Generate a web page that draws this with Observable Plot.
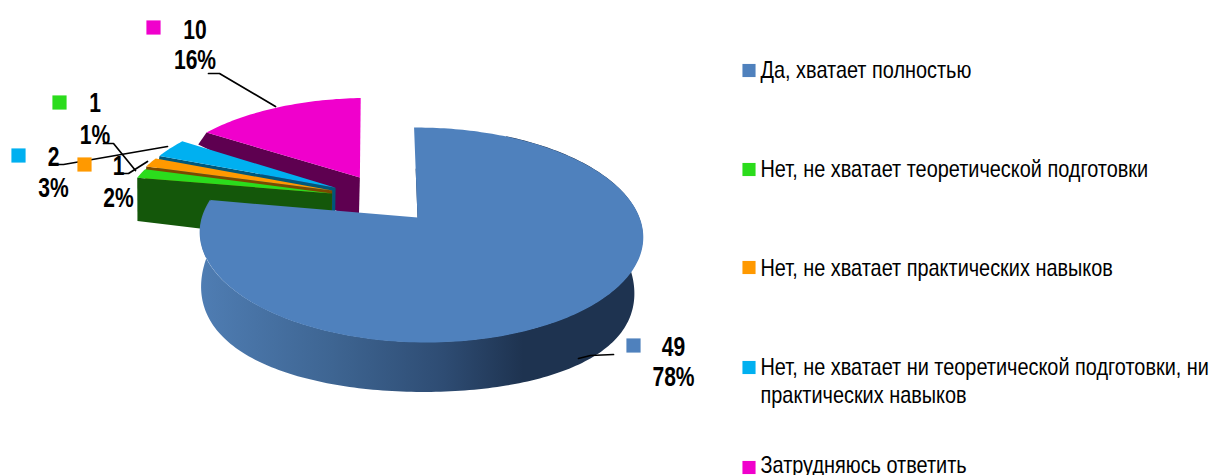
<!DOCTYPE html>
<html><head><meta charset="utf-8">
<script src="https://cdn.jsdelivr.net/npm/d3@7"></script>
<script src="https://cdn.jsdelivr.net/npm/@observablehq/plot@0.6"></script>
<style>html,body{margin:0;padding:0;background:#fff}svg{display:block}</style>
</head><body><div id="c"></div>
<script>
const categories = ["Да, хватает полностью","Нет, не хватает теоретической подготовки","Нет, не хватает практических навыков","Нет, не хватает ни теоретической подготовки, ни практических навыков","Затрудняюсь ответить"];
const values = [49,1,1,2,10];
const percents = ["78%","1%","2%","3%","16%"];
const colors = ["#4F81BD","#2BDC1C","#FF9900","#00B0F0","#F000CC"];
const wallColors = ["#1E3350","#14570A","#7A4A00","#00587A","#5E0050"];
// slice explosion in the pie plane
const explodeU = [0,-0.405,-0.405,-0.39,-0.275];
const explodeV = [0,-0.24,-0.27,-0.30,-0.41];
const wallInset = [0,7,5,3,1];
const endTrim = [0,0,0,0,0.02];
// layout: value labels, keys, leaders, legend
const labelX = [673,94.5,118,53,194.5], labelY1=[346.4,103,166,156.5,29.4], labelY2=[376.4,134.5,197.5,188,59.4];
const keyX = [633,59,84,18,153], keyY=[345,102,164,155,27];
const leaders = [
  [[578,358],[590,355],[613,354]],
  [[103,143],[113,143],[135,170]],
  [[117,173],[128,173],[147,161]],
  [[57,164],[63,164],[167,146]],
  [[208,73],[219,73],[275,106]]
];
const legendY=[70.6,169.6,268.6,367.6,465.6];
const legendLines=[["Да, хватает полностью"],["Нет, не хватает теоретической подготовки"],["Нет, не хватает практических навыков"],["Нет, не хватает ни теоретической подготовки, ни","практических навыков"],["Затрудняюсь ответить"]];
const legendKeyY=[70,169,267,367,467];

const W=1213,H=475;
function topP(u,v){const d=1-0.163*v-0.0158*u;return [417+(218.5*u+4*v)/d,217+104.6*v/d];}
function botP(u,v){const d=1-0.12*v;return [417+(215*u+6*v)/d,265+127*v+10.5*(v+0.955)*(1-v)];}
const arcs=d3.pie().sort(null).startAngle(0).endAngle(2*Math.PI)(values);
const plane=(i,t)=>[explodeU[i]+Math.sin(t),explodeV[i]-Math.cos(t)];
const angles=(a,b,n=Math.max(4,Math.ceil((b-a)/0.02)))=>d3.range(n+1).map(k=>a+(b-a)*k/n);

function row(p,extra){return {x:p[0],y:p[1],...extra};}
const marks=[];
function poly(pts,fill){marks.push(Plot.line(pts.map(p=>row(p)),{x:"x",y:"y",fill,stroke:"none"}));}
// painter's order, back to front
for(const i of [4,3,2,1,0]){
  const a=arcs[i],u0=explodeU[i],v0=explodeV[i];
  if(i>0){
    // the cut face that looks towards the viewer
    const s=plane(i,a.startAngle),b=botP(...s);
    poly([topP(u0,v0),topP(...s),[b[0]+wallInset[i],b[1]],botP(u0,v0)],wallColors[i]);
  } else {
    const ts=angles(0.5,a.endAngle);
    marks.push(Plot.area(ts.map(t=>{const q=plane(0,t),p=topP(...q),b=botP(...q);return {x1:p[0],y1:p[1],x2:b[0],y2:b[1]};}),
      {x1:"x1",y1:"y1",x2:"x2",y2:"y2",fill:"url(#blueWall)"}));
    marks.push(Plot.line([topP(0,0),topP(0,-0.5)].map(p=>row(p)),{x:"x",y:"y",stroke:wallColors[0],strokeWidth:2,dx:1}));
  }
  const top=[topP(u0,v0),...angles(a.startAngle,a.endAngle-endTrim[i]).map(t=>topP(...plane(i,t)))];
  marks.push(Plot.line(top.map(p=>row(p,{cat:categories[i]})),{x:"x",y:"y",z:"cat",fill:"cat",stroke:"none"}));
}
const defs=()=>{
  const d=d3.create("svg:defs"),g=d.append("linearGradient").attr("id","blueWall");
  [[0,"#4F7DB3"],[0.3,"#3E6592"],[0.55,"#2E4C73"],[0.73,"#1E3350"],[1,"#1E3350"]]
    .forEach(([o,c])=>g.append("stop").attr("offset",o).attr("stop-color",c));
  return d.node();
};
const idx=d3.range(categories.length);
const font='"Liberation Sans",Arial,sans-serif';
const legendRows=idx.flatMap(i=>legendLines[i].map((t,k)=>({t,y:legendY[i]+k*28})));
const plot=Plot.plot({
  width:W,height:H,margin:0,
  x:{domain:[0,W],range:[0,W],axis:null},
  y:{domain:[0,H],range:[0,H],axis:null},
  color:{domain:categories,range:colors},
  style:{background:"#fff"},
  marks:[
    defs,
    ...marks,
    ...leaders.map(l=>Plot.line(l.map(p=>row(p)),{x:"x",y:"y",stroke:"#000",strokeWidth:1.7})),
    Plot.dot(idx,{x:i=>keyX[i],y:i=>keyY[i],symbol:"square",r:8,fill:i=>categories[i],stroke:"none"}),
    Plot.text(idx,{x:i=>labelX[i],y:i=>labelY1[i],text:i=>String(values[i]),fontFamily:font,fontWeight:"bold",fontSize:27,fill:"#000",className:"lab"}),
    Plot.text(idx,{x:i=>labelX[i],y:i=>labelY2[i],text:i=>percents[i],fontFamily:font,fontWeight:"bold",fontSize:27,fill:"#000",className:"lab"}),
    Plot.dot(idx,{x:()=>748.5,y:i=>legendKeyY[i],symbol:"square",r:7.4,fill:i=>categories[i],stroke:"none"}),
    Plot.text(legendRows,{x:()=>760,y:"y",text:"t",textAnchor:"start",fontFamily:font,fontSize:23,fill:"#000",className:"leg"})
  ]
});
// the reference text is horizontally condensed
d3.select(plot).selectAll("g.lab text").attr("transform",function(){return (this.getAttribute("transform")||"")+" scale(0.78,1)";});
d3.select(plot).selectAll("g.leg text").attr("transform",function(){return (this.getAttribute("transform")||"")+" scale(0.865,1)";});
document.getElementById("c").append(plot);
</script></body></html>
